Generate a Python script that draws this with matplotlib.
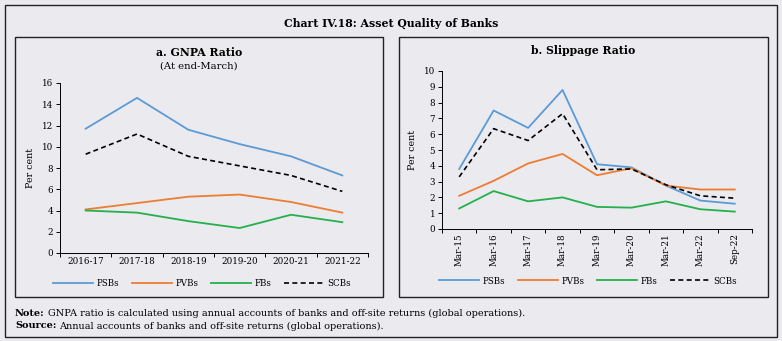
import matplotlib.pyplot as plt
from matplotlib.patches import Rectangle

# GNPA ratio at end-March (per cent)
gnpa_years = ["2016-17", "2017-18", "2018-19", "2019-20", "2020-21", "2021-22"]
gnpa_psbs = [11.7, 14.6, 11.6, 10.25, 9.1, 7.3]
gnpa_pvbs = [4.1, 4.7, 5.3, 5.5, 4.8, 3.8]
gnpa_fbs = [4.0, 3.8, 3.0, 2.35, 3.6, 2.9]
gnpa_scbs = [9.3, 11.2, 9.1, 8.2, 7.3, 5.8]

# slippage ratio (per cent)
slip_periods = ["Mar-15", "Mar-16", "Mar-17", "Mar-18", "Mar-19",
                "Mar-20", "Mar-21", "Mar-22", "Sep-22"]
slip_psbs = [3.8, 7.5, 6.4, 8.8, 4.1, 3.9, 2.75, 1.8, 1.6]
slip_pvbs = [2.1, 3.05, 4.15, 4.75, 3.4, 3.85, 2.75, 2.5, 2.5]
slip_fbs = [1.3, 2.4, 1.75, 2.0, 1.4, 1.35, 1.75, 1.25, 1.1]
slip_scbs = [3.3, 6.35, 5.6, 7.3, 3.75, 3.8, 2.8, 2.1, 1.95]

W, H = 782, 341
bg = "#ebeaef"
plt.rcParams["font.family"] = "DejaVu Serif"

fig = plt.figure(figsize=(W / 100, H / 100), dpi=100)
fig.patch.set_facecolor(bg)


def box(x0, y0, x1, y1, lw=1.0):
    fig.patches.append(Rectangle((x0 / W, 1 - y1 / H), (x1 - x0) / W, (y1 - y0) / H,
                                 transform=fig.transFigure, fill=False,
                                 edgecolor="#222222", linewidth=lw))


def axes_px(x0, y0, x1, y1):
    return fig.add_axes([x0 / W, 1 - y1 / H, (x1 - x0) / W, (y1 - y0) / H])


box(5, 5, 777, 337)
box(15, 37, 383, 297)
box(399, 37, 768, 297)

fig.text(391 / W, 1 - 23 / H, "Chart IV.18: Asset Quality of Banks",
         ha="center", va="center", fontsize=7.8, fontweight="bold")

colors = {"PSBs": "#5b9bd5", "PVBs": "#ed7d31", "FBs": "#22b14c", "SCBs": "#000000"}


def draw(ax, labels, series, ymax, ystep):
    n = len(labels)
    x = range(n)
    for name, vals in series.items():
        if name == "SCBs":
            ax.plot(x, vals, color=colors[name], lw=1.2, ls=(0, (3, 2)), label=name)
        else:
            ax.plot(x, vals, color=colors[name], lw=1.3, label=name)
    ax.set_facecolor(bg)
    ax.set_xlim(-0.5, n - 0.5)
    ax.set_ylim(0, ymax)
    ax.set_yticks(range(0, ymax + 1, ystep))
    ax.set_xticks(list(x))
    ax.set_xticks([i - 0.5 for i in range(n + 1)], minor=True)
    ax.tick_params(axis="x", which="major", length=0, labelsize=6.3, pad=3)
    ax.tick_params(axis="x", which="minor", length=3, width=0.7, direction="out")
    ax.tick_params(axis="y", length=3, width=0.7, labelsize=6.3, pad=2)
    for s in ("top", "right"):
        ax.spines[s].set_visible(False)
    for s in ("left", "bottom"):
        ax.spines[s].set_linewidth(0.7)
    ax.set_ylabel("Per cent", fontsize=6.8, labelpad=5)


ax1 = axes_px(60, 83, 368, 253)
draw(ax1, gnpa_years,
     {"PSBs": gnpa_psbs, "PVBs": gnpa_pvbs, "FBs": gnpa_fbs, "SCBs": gnpa_scbs}, 16, 2)
ax1.set_xticklabels(gnpa_years)
fig.text(199 / W, 1 - 52 / H, "a. GNPA Ratio", ha="center", va="center",
         fontsize=7.8, fontweight="bold")
fig.text(199 / W, 1 - 66 / H, "(At end-March)", ha="center", va="center", fontsize=7.2)

ax2 = axes_px(442, 71, 752, 229)
draw(ax2, slip_periods,
     {"PSBs": slip_psbs, "PVBs": slip_pvbs, "FBs": slip_fbs, "SCBs": slip_scbs}, 10, 1)
ax2.set_xticklabels(slip_periods, rotation=90)
fig.text(583 / W, 1 - 51 / H, "b. Slippage Ratio", ha="center", va="center",
         fontsize=7.8, fontweight="bold")

for ax, cx, cy in ((ax1, 202, 284), (ax2, 588, 281)):
    h, l = ax.get_legend_handles_labels()
    fig.legend(h, l, loc="center", bbox_to_anchor=(cx / W, 1 - cy / H), ncol=4,
               frameon=False, fontsize=6.3, handlelength=4.6, handletextpad=0.4,
               columnspacing=1.4)

# footnotes: bold lead-in followed by plain text
renderer = fig.canvas.get_renderer()
for y, lead, rest in ((313, "Note:", "GNPA ratio is calculated using annual accounts of banks "
                       "and off-site returns (global operations)."),
                      (326, "Source:", "Annual accounts of banks and off-site returns "
                       "(global operations).")):
    t = fig.text(15 / W, 1 - y / H, lead, fontsize=7, fontweight="bold", va="center")
    x_end = t.get_window_extent(renderer).x1
    fig.text((x_end + 3) / W, 1 - y / H, rest, fontsize=7, va="center")

fig.savefig("out.png", dpi=100, facecolor=bg)
